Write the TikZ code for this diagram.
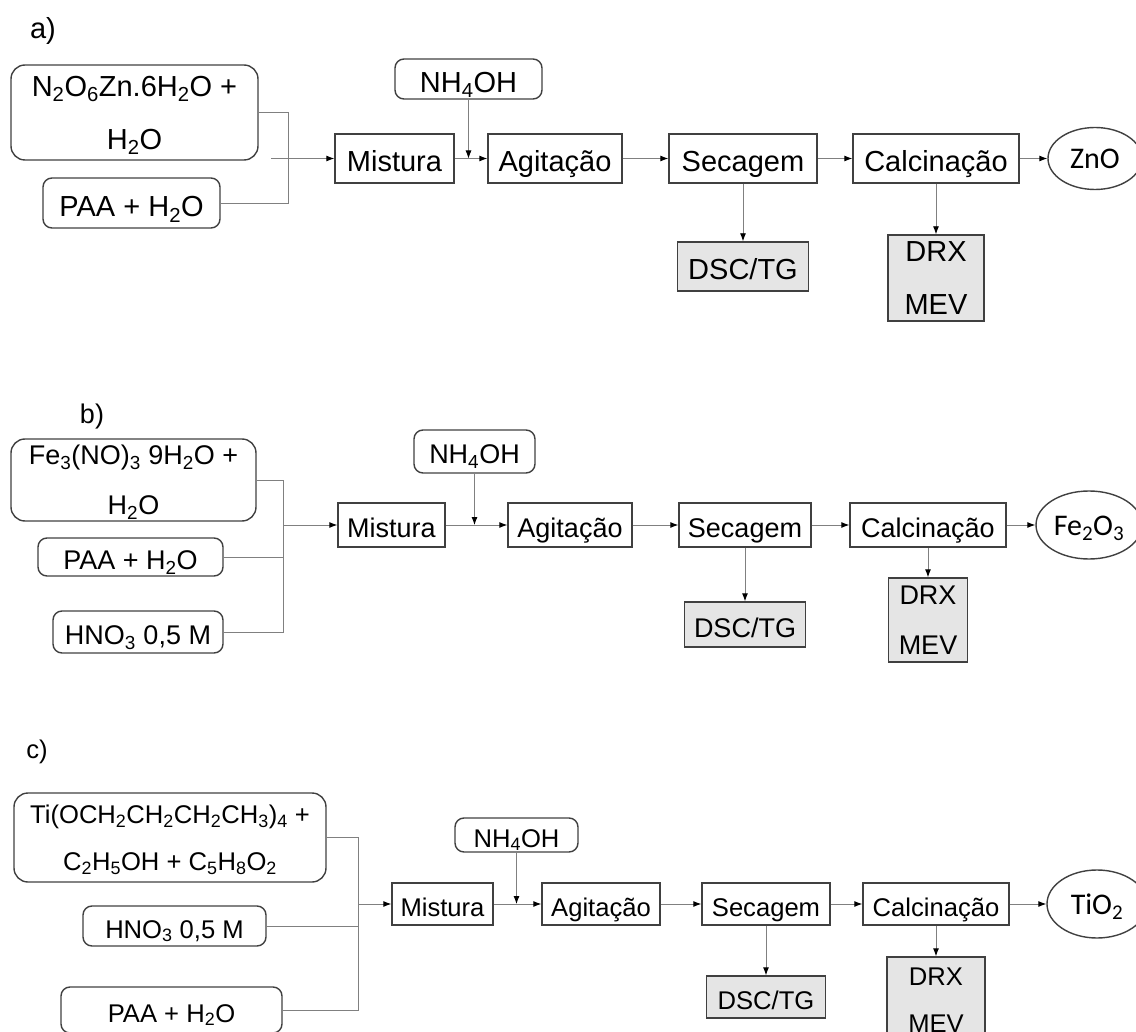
\documentclass[tikz,border=0pt]{standalone}
\usepackage{fontspec}
\setmainfont{Liberation Sans}
\newfontfamily\carlito{Carlito}
\usetikzlibrary{shapes.geometric,arrows.meta}

\tikzstyle{every node}=[inner sep=0pt, align=center, font=\fontsize{29}{53}\selectfont]
\tikzstyle{stage}=[draw=black!75, line width=1.4pt, minimum height=49pt, text height=27pt, text depth=0pt]
\tikzstyle{twolines}=[text height=, text depth=-6pt]
\tikzstyle{reagent}=[stage, rounded corners=9pt]
\tikzstyle{analysis}=[stage, fill=black!10]
\tikzstyle{product}=[stage, ellipse, text height=20pt, font=\carlito\fontsize{30}{30}\selectfont]
\tikzstyle{feed}=[draw=black!50, line width=0.9pt]
\tikzstyle{link}=[feed, -{Latex[length=8pt,width=6pt,color=black]}]

\begin{document}
\begin{tikzpicture}[x=1pt, y=-1pt]
    \clip (0,0) rectangle (1136,1032);

    \node (la) at (43,31) {a)};
    \node [reagent, twolines, rounded corners=14pt, minimum width=247pt, minimum height=95pt] (a1) at (134.5,112.5) {N\textsubscript{2}O\textsubscript{6}Zn.6H\textsubscript{2}O +\\H\textsubscript{2}O};
    \node [reagent, minimum width=177pt, minimum height=50pt] (a2) at (131.5,203) {PAA + H\textsubscript{2}O};
    \node [stage, minimum width=119pt] (ma) at (394.5,158.5) {Mistura};
    \node [reagent, minimum width=147pt, minimum height=40pt] (na) at (468.5,79) {NH\textsubscript{4}OH};
    \node [stage, minimum width=134pt] (ga) at (555,158.5) {Agitação};
    \node [stage, minimum width=148pt] (sa) at (743,158.5) {Secagem};
    \node [stage, minimum width=166pt] (ca) at (936,158.5) {Calcinação};
    \node [product, minimum width=94pt, minimum height=62pt] (oa) at (1095,158.5) {ZnO};
    \node [analysis, minimum width=131pt] (da) at (743,266.5) {DSC/TG};
    \node [analysis, twolines, minimum width=96pt, minimum height=86pt] (ra) at (936,278) {DRX\\MEV};
    \coordinate (ja) at (288,158.5);
    \coordinate (ea) at (271,158.5);
    \draw [feed] (a1.east) -- (a1.east -| ja) -- (a2.east -| ja) -- (a2.east);
    \draw [link] (ea) -- (ma);
    \draw [link] (na) -- (na |- ma.east);
    \draw [link] (ma) -- (ga);
    \draw [link] (ga) -- (sa);
    \draw [link] (sa) -- (ca);
    \draw [link] (ca) -- (oa);
    \draw [link] (sa) -- (da);
    \draw [link] (ca) -- (ra);

    \begin{scope}[every node/.append style={font=\fontsize{27}{50}\selectfont}, stage/.append style={text height=25pt}]
    \node (lb) at (92,417) {b)};
    \node [reagent, twolines, rounded corners=14pt, minimum width=245pt, minimum height=82pt] (b1) at (133.5,480) {Fe\textsubscript{3}(NO)\textsubscript{3} 9H\textsubscript{2}O +\\H\textsubscript{2}O};
    \node [reagent, minimum width=185pt, minimum height=38pt] (b2) at (130.5,557) {PAA + H\textsubscript{2}O};
    \node [reagent, minimum width=170pt, minimum height=42pt] (b3) at (138,632) {HNO\textsubscript{3} 0,5 M};
    \node [stage, minimum width=107pt, minimum height=44pt] (mb) at (391.5,525) {Mistura};
    \node [reagent, minimum width=121pt, minimum height=43pt] (nb) at (474.5,451.5) {NH\textsubscript{4}OH};
    \node [stage, minimum width=124pt, minimum height=44pt] (gb) at (570,525) {Agitação};
    \node [stage, minimum width=132pt, minimum height=44pt] (sb) at (745,525) {Secagem};
    \node [stage, minimum width=156pt, minimum height=44pt] (cb) at (928,525) {Calcinação};
    \node [product, minimum width=106pt, minimum height=68pt] (ob) at (1089,525) {Fe\textsubscript{2}O\textsubscript{3}};
    \node [analysis, minimum width=121pt, minimum height=45pt] (db) at (745,624.5) {DSC/TG};
    \node [analysis, twolines, minimum width=79pt, minimum height=84pt] (rb) at (928,620) {DRX\\MEV};
    \end{scope}
    \coordinate (jb) at (283,525);
    \draw [feed] (b1.east) -- (b1.east -| jb) -- (b3.east -| jb) -- (b3.east);
    \draw [feed] (b2.east) -- (b2.east -| jb);
    \draw [link] (jb) -- (mb);
    \draw [link] (nb) -- (nb |- mb.east);
    \draw [link] (mb) -- (gb);
    \draw [link] (gb) -- (sb);
    \draw [link] (sb) -- (cb);
    \draw [link] (cb) -- (ob);
    \draw [link] (sb) -- (db);
    \draw [link] (cb) -- (rb);

    \begin{scope}[every node/.append style={font=\fontsize{25.6}{47}\selectfont}, stage/.append style={text height=24pt}]
    \node (lc) at (37,752) {c)};
    \node [reagent, twolines, rounded corners=14pt, minimum width=312pt, minimum height=89pt] (c1) at (170,837.5) {Ti(OCH\textsubscript{2}CH\textsubscript{2}CH\textsubscript{2}CH\textsubscript{3})\textsubscript{4} +\\C\textsubscript{2}H\textsubscript{5}OH + C\textsubscript{5}H\textsubscript{8}O\textsubscript{2}};
    \node [reagent, minimum width=183pt, minimum height=40pt] (c2) at (174.5,926) {HNO\textsubscript{3} 0,5 M};
    \node [reagent, minimum width=221pt, minimum height=46pt] (c3) at (171.5,1010) {PAA + H\textsubscript{2}O};
    \node [stage, minimum width=101pt, minimum height=42pt] (mc) at (442.5,904) {Mistura};
    \node [reagent, minimum width=123pt, minimum height=34pt] (nc) at (516.5,835) {NH\textsubscript{4}OH};
    \node [stage, minimum width=118pt, minimum height=42pt] (gc) at (601,904) {Agitação};
    \node [stage, minimum width=128pt, minimum height=42pt] (sc) at (766,904) {Secagem};
    \node [stage, minimum width=146pt, minimum height=42pt] (cc) at (936,904) {Calcinação};
    \node [product, minimum width=100pt, minimum height=68pt] (oc) at (1097,904) {TiO\textsubscript{2}};
    \node [analysis, minimum width=119pt, minimum height=42pt] (dc) at (766,997) {DSC/TG};
    \node [analysis, twolines, minimum width=98pt, minimum height=86pt] (rc) at (936,1000) {DRX\\MEV};
    \end{scope}
    \coordinate (jc) at (358,904);
    \draw [feed] (c1.east) -- (c1.east -| jc) -- (c3.east -| jc) -- (c3.east);
    \draw [feed] (c2.east) -- (c2.east -| jc);
    \draw [link] (jc) -- (mc);
    \draw [link] (nc) -- (nc |- mc.east);
    \draw [link] (mc) -- (gc);
    \draw [link] (gc) -- (sc);
    \draw [link] (sc) -- (cc);
    \draw [link] (cc) -- (oc);
    \draw [link] (sc) -- (dc);
    \draw [link] (cc) -- (rc);
\end{tikzpicture}
\end{document}
